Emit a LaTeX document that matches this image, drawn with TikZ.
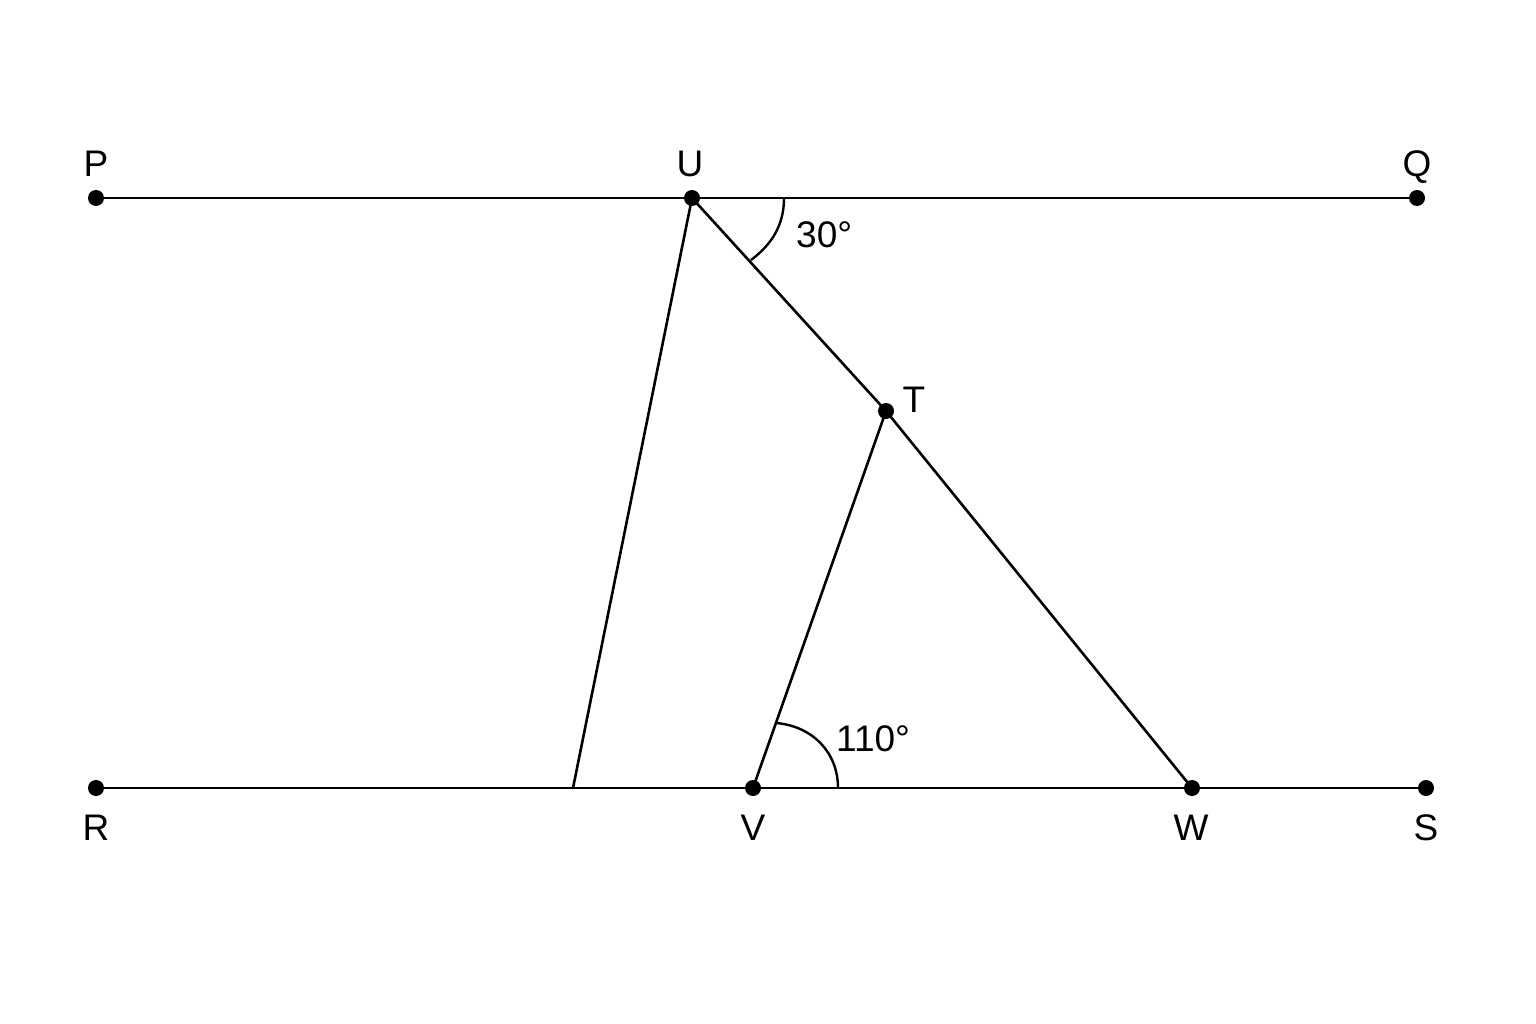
\documentclass[tikz,border=0pt]{standalone}
\usepackage{fontspec}
\setmainfont{Liberation Sans}
\begin{document}
\begin{tikzpicture}[x=1pt,y=-1pt,
  seg/.style={line width=2.6pt,line cap=round,line join=round},
  arcline/.style={line width=2.4pt},
  dotmark/.style={fill=black},
  lbl/.style={font=\fontsize{37}{40}\selectfont,inner sep=0pt,anchor=base}]
\useasboundingbox[fill=white] (0,0) rectangle (1536,1024);
\coordinate (P) at (96,198);
\coordinate (U) at (692,198);
\coordinate (Q) at (1417,198);
\coordinate (R) at (96,788);
\coordinate (X) at (573,788);
\coordinate (V) at (753,788);
\coordinate (W) at (1192,788);
\coordinate (S) at (1426,788);
\coordinate (T) at (886,411);
\coordinate (A1) at (784,198);
\coordinate (A2) at (751,260);
\coordinate (B1) at (838,788);
\coordinate (B2) at (776,723);
% lines
\draw[seg] (P) -- (Q);
\draw[seg] (R) -- (S);
\draw[seg] (U) -- (X);
\draw[seg] (U) -- (T) -- (W);
\draw[seg] (V) -- (T);
% angle arcs
\draw[arcline] (A1) .. controls (784,226) and (771,245) .. (A2);
\draw[arcline] (B1) .. controls (838,752) and (812,726) .. (B2);
% dots
\foreach \p in {P,U,Q,R,V,W,S,T} \fill[dotmark] (\p) circle[radius=8pt];
% labels
\node[lbl] (lP) at (96,177) {P};
\node[lbl] (lU) at (690,177) {U};
\node[lbl] (lQ) at (1417,177) {Q};
\node[lbl] (lR) at (96,840) {R};
\node[lbl] (lV) at (753,840) {V};
\node[lbl] (lW) at (1191,840) {W};
\node[lbl] (lS) at (1426,840) {S};
\node[lbl] (lT) at (914,412) {T};
\node[lbl,anchor=base west] (l30) at (796,248) {30°};
\node[lbl,anchor=base west] (l110) at (836,751) {110°};
\end{tikzpicture}
\end{document}
